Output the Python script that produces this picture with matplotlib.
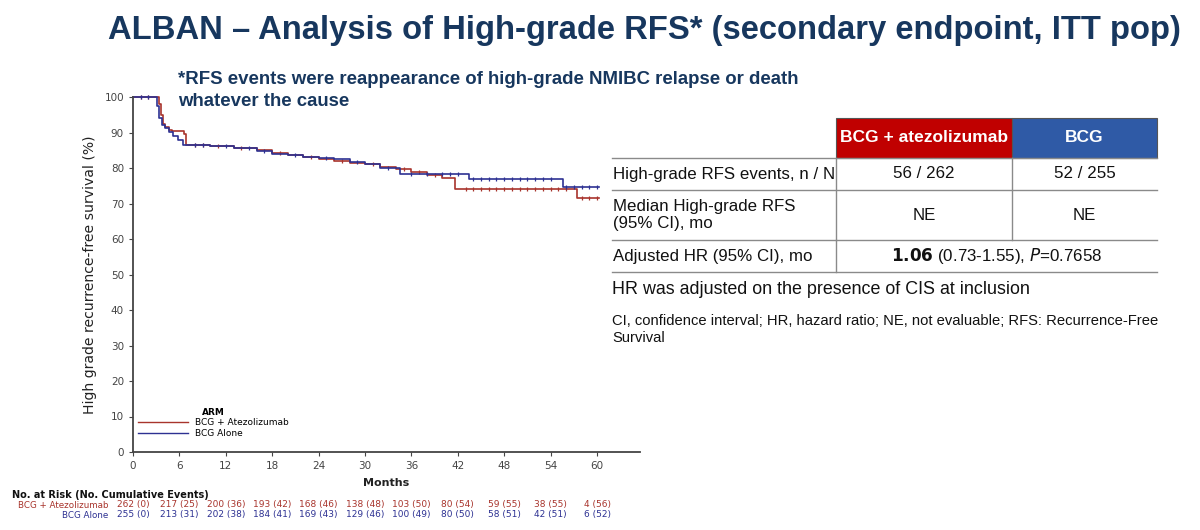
import matplotlib
matplotlib.use('Agg')
import matplotlib.pyplot as plt
from matplotlib.patches import Rectangle
import numpy as np

# Kaplan-Meier step data (months, survival %)
atezo_t = [0, 3.3, 3.6, 3.9, 4.2, 4.6, 5.0, 6.6, 6.9, 10, 13, 16, 18, 20, 22, 24, 26,
           28, 30, 32, 34, 36, 38, 40, 41.7, 57.4]
atezo_s = [100, 98, 95, 92.5, 91.5, 90.8, 90.3, 89.6, 86.6, 86.2, 85.6, 85.0, 84.2, 83.8,
           83.0, 82.5, 82.0, 81.5, 81.0, 80.3, 79.6, 78.8, 78.0, 77.2, 74.1, 71.5]
bcg_t = [0, 3.1, 3.4, 3.7, 4.1, 4.6, 5.2, 5.8, 6.5, 10, 13, 16, 18, 20, 22, 24, 26, 28,
         30, 32, 34.5, 43.4, 55.6]
bcg_s = [100, 97.5, 94, 92, 91.2, 90.2, 89.0, 87.8, 86.4, 86.2, 85.5, 84.8, 84.0, 83.6,
         83.2, 82.8, 82.4, 81.8, 81.0, 80.0, 78.2, 76.8, 74.6]
t_end = 60.2

# censoring times (tick marks on curves)
atezo_cens = [1, 2, 8, 9, 11, 14, 19, 23, 27, 31, 35, 37, 39, 43, 44, 45, 46, 47, 48, 49,
              50, 51, 52, 53, 54, 55, 56, 58, 59, 60]
bcg_cens = [1, 2, 8, 9, 12, 15, 17, 21, 25, 29, 33, 36, 38, 40, 41, 42, 44, 45, 46, 47,
            48, 49, 50, 51, 52, 53, 54, 56, 57, 58, 59, 60]

risk_months = [0, 6, 12, 18, 24, 30, 36, 42, 48, 54, 60]
atezo_risk = ['262 (0)', '217 (25)', '200 (36)', '193 (42)', '168 (46)', '138 (48)',
              '103 (50)', '80 (54)', '59 (55)', '38 (55)', '4 (56)']
bcg_risk = ['255 (0)', '213 (31)', '202 (38)', '184 (41)', '169 (43)', '129 (46)',
            '100 (49)', '80 (50)', '58 (51)', '42 (51)', '6 (52)']

table_cols = ['BCG + atezolizumab', 'BCG']
table_rows = ['High-grade RFS events, n / N', 'Median High-grade RFS\n(95% CI), mo',
              'Adjusted HR (95% CI), mo']
table_atezo = ['56 / 262', 'NE']
table_bcg = ['52 / 255', 'NE']

RED = '#a8342c'
BLUE = '#2d3192'
NAVY = '#17375e'
ARIAL = 'Liberation Sans'

W, H = 1200, 530
fig = plt.figure(figsize=(12, 5.3), dpi=100)

# KM axes
x0, x1, ytop, ybot = 133, 640, 97, 452
ax = fig.add_axes([x0 / W, 1 - ybot / H, (x1 - x0) / W, (ybot - ytop) / H])
ax.patch.set_visible(False)
px_per_month = (597 - 133) / 60
ax.set_xlim(0, (x1 - x0) / px_per_month)
ax.set_ylim(0, 100)


def km_line(t, s, cens, color, label):
    tt = list(t) + [t_end]
    ss = list(s) + [s[-1]]
    ax.step(tt, ss, where='post', color=color, lw=1.2, label=label, clip_on=False)
    idx = np.searchsorted(t, cens, side='right') - 1
    ax.plot(cens, np.array(s)[idx], ls='none', marker='|', ms=3, mew=0.9, color=color,
            clip_on=False)


km_line(atezo_t, atezo_s, atezo_cens, RED, 'BCG + Atezolizumab')
km_line(bcg_t, bcg_s, bcg_cens, BLUE, 'BCG Alone')

for sp in ['top', 'right']:
    ax.spines[sp].set_visible(False)
for sp in ['left', 'bottom']:
    ax.spines[sp].set_color('#444444')
    ax.spines[sp].set_linewidth(1.3)
ax.set_xticks(risk_months)
ax.set_yticks(range(0, 101, 10))
ax.tick_params(labelsize=7.5, colors='#444444', length=3, width=0.8)
ax.set_xlabel('Months', fontsize=8, fontweight='bold', color='#222222', labelpad=5)
ax.set_ylabel('High grade recurrence-free survival (%)', fontsize=8.5, color='#222222',
              labelpad=5)

leg = ax.legend(loc='lower left', bbox_to_anchor=(0.0, 0.025), frameon=False, fontsize=6.5,
                title='ARM', handlelength=5.5, labelspacing=0.15, borderaxespad=0.2,
                title_fontproperties={'weight': 'bold', 'size': 6.5})
for h in leg.get_lines():
    h.set_linewidth(1.0)

# overlay for texts / table in pixel coordinates (on top, transparent)
ov = fig.add_axes([0, 0, 1, 1])
ov.set_xlim(0, W)
ov.set_ylim(H, 0)
ov.axis('off')

fig.canvas.draw()
renderer = fig.canvas.get_renderer()


def fit(txt, width, vertical=False):
    # scale the font so the text spans the size measured on the picture
    bb = txt.get_window_extent(renderer)
    w = bb.height if vertical else bb.width
    txt.set_fontsize(txt.get_fontsize() * width / w)
    return txt


fit(ax.yaxis.label, 280, vertical=True)

# number at risk table
ov.text(12, 495, 'No. at Risk (No. Cumulative Events)', fontsize=7, fontweight='bold',
        color='#111111', va='center')
ov.text(108, 505, 'BCG + Atezolizumab', fontsize=6.3, color=RED, ha='right', va='center')
ov.text(108, 515, 'BCG Alone', fontsize=6.3, color=BLUE, ha='right', va='center')
for m, a, b in zip(risk_months, atezo_risk, bcg_risk):
    px = x0 + m * px_per_month
    ov.text(px, 505, a, fontsize=6.5, color=RED, ha='center', va='center')
    ov.text(px, 515, b, fontsize=6.5, color=BLUE, ha='center', va='center')

# title and footnote
fit(ov.text(108, 31, 'ALBAN \u2013 Analysis of High-grade RFS* (secondary endpoint, ITT pop)',
            fontsize=28, fontweight='bold', color=NAVY, va='center', family=ARIAL), 1072)
sub = fit(ov.text(178, 79, '*RFS events were reappearance of high-grade NMIBC relapse or death',
                  fontsize=12, fontweight='bold', color=NAVY, va='center', family=ARIAL), 619)
ov.text(178, 102, 'whatever the cause', fontsize=sub.get_fontsize(), fontweight='bold',
        color=NAVY, va='center', family=ARIAL)

# summary table
cx = [612, 836, 1012, 1157]
ry = [118, 158, 190, 240, 272]
ov.add_patch(Rectangle((cx[1], ry[0]), cx[2] - cx[1], ry[1] - ry[0], fc='#c00000',
                       ec='#555555', lw=0.8))
ov.add_patch(Rectangle((cx[2], ry[0]), cx[3] - cx[2], ry[1] - ry[0], fc='#2f5aa6',
                       ec='#555555', lw=0.8))
for i, name in enumerate(table_cols):
    ov.text((cx[i + 1] + cx[i + 2]) / 2, (ry[0] + ry[1]) / 2, name, fontsize=12.5,
            fontweight='bold', color='white', ha='center', va='center', family=ARIAL)
for y in ry[1:]:
    ov.plot([cx[0], cx[3]], [y, y], color='#8a8a8a', lw=1.0)
for x in cx[1:3]:
    ov.plot([x, x], [ry[1], ry[3]], color='#8a8a8a', lw=1.0)
ov.plot([cx[1], cx[1]], [ry[3], ry[4]], color='#8a8a8a', lw=1.0)
for i, lab in enumerate(table_rows):
    t = ov.text(cx[0] + 1, (ry[i + 1] + ry[i + 2]) / 2, lab, fontsize=13, color='#111111',
                va='center', family=ARIAL, linespacing=1.1)
    if i == 0:
        fit(t, 221)
        row_fs = t.get_fontsize()
    else:
        t.set_fontsize(row_fs)
for i in range(2):
    ym = (ry[i + 1] + ry[i + 2]) / 2
    ov.text((cx[1] + cx[2]) / 2, ym, table_atezo[i], fontsize=row_fs, color='#111111',
            ha='center', va='center', family=ARIAL)
    ov.text((cx[2] + cx[3]) / 2, ym, table_bcg[i], fontsize=row_fs, color='#111111',
            ha='center', va='center', family=ARIAL)
ov.text((cx[1] + cx[3]) / 2, (ry[3] + ry[4]) / 2,
        r'$\mathbf{1.06}$ (0.73-1.55), $\mathit{P}$=0.7658', fontsize=row_fs,
        color='#111111', ha='center', va='center', family=ARIAL)

fit(ov.text(612, 289, 'HR was adjusted on the presence of CIS at inclusion', fontsize=12,
            color='#111111', va='center', family=ARIAL), 418)
ci = fit(ov.text(612, 321, 'CI, confidence interval; HR, hazard ratio; NE, not evaluable; '
                 'RFS: Recurrence-Free', fontsize=10, color='#111111', va='center',
                 family=ARIAL), 545)
ov.text(612, 338, 'Survival', fontsize=ci.get_fontsize(), color='#111111', va='center',
        family=ARIAL)

fig.savefig('out.png', dpi=100)
